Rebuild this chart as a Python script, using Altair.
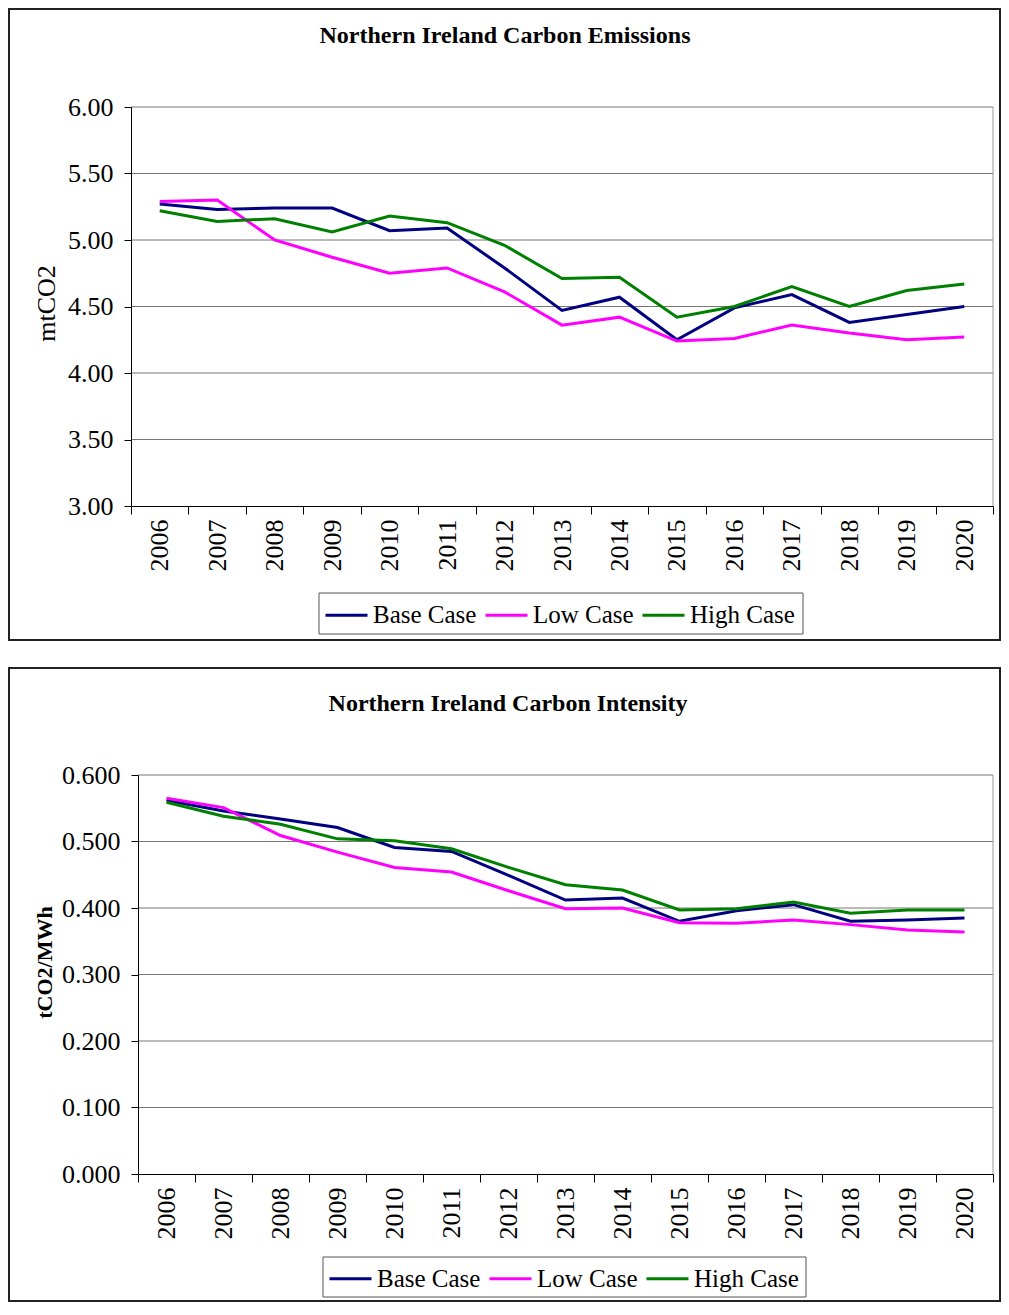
import altair as alt
import pandas as pd

years = [str(y) for y in range(2006, 2021)]
series = ["Base Case", "Low Case", "High Case"]
colors = ["#000080", "#FF00FF", "#008000"]

emis_base = [5.27, 5.23, 5.24, 5.24, 5.07, 5.09, 4.79, 4.47, 4.57, 4.25, 4.49, 4.59, 4.38, 4.44, 4.50]
emis_low = [5.29, 5.30, 5.00, 4.87, 4.75, 4.79, 4.61, 4.36, 4.42, 4.24, 4.26, 4.36, 4.30, 4.25, 4.27]
emis_high = [5.22, 5.14, 5.16, 5.06, 5.18, 5.13, 4.96, 4.71, 4.72, 4.42, 4.50, 4.65, 4.50, 4.62, 4.67]

int_base = [0.562, 0.546, 0.534, 0.521, 0.491, 0.485, 0.449, 0.412, 0.415, 0.380, 0.396, 0.405, 0.380, 0.382, 0.385]
int_low = [0.565, 0.551, 0.509, 0.484, 0.461, 0.454, 0.426, 0.399, 0.400, 0.378, 0.377, 0.382, 0.375, 0.367, 0.364]
int_high = [0.559, 0.538, 0.526, 0.504, 0.501, 0.489, 0.461, 0.435, 0.427, 0.397, 0.399, 0.409, 0.392, 0.397, 0.397]

emis_ticks = [3.0, 3.5, 4.0, 4.5, 5.0, 5.5, 6.0]
int_ticks = [0.0, 0.1, 0.2, 0.3, 0.4, 0.5, 0.6]

FONT = "Liberation Serif"
W, H = 862, 399


def long_df(vals):
    rows = []
    for name, v in zip(series, vals):
        for y, val in zip(years, v):
            rows.append({"year": y, "series": name, "value": val})
    return pd.DataFrame(rows)


def panel(df, title, ytitle, ytitle_bold, ticks, fmt, x0, frame, title_pos, lbox, ytitle_xy):
    yscale = alt.Scale(domain=[ticks[0], ticks[-1]], nice=False, zero=False)
    xscale = alt.Scale(type="band", paddingInner=0, paddingOuter=0, range=[x0, W])
    yaxis = alt.Axis(
        title=ytitle, titleFont=FONT, titleFontSize=(22 if ytitle_bold else 26),
        titleFontWeight=("bold" if ytitle_bold else "normal"), titleColor="#000",
        titleX=ytitle_xy[0], titleY=ytitle_xy[1], offset=-x0,
        values=ticks, format=fmt, labelFont=FONT, labelFontSize=26, labelColor="#000",
        tickSize=7, tickColor="#000", domainColor="#000", labelPadding=11,
        grid=False, zindex=1,
    )

    grid = alt.Chart(pd.DataFrame({"value": ticks[1:]})).mark_rule(color="#777", strokeWidth=1).encode(
        y=alt.Y("value:Q", scale=yscale, axis=yaxis),
        x=alt.value(x0), x2=alt.value(W),
    )
    right = alt.Chart(pd.DataFrame({"v": [ticks[0]]})).mark_rule(color="#999", strokeWidth=1).encode(
        x=alt.value(W), y=alt.value(0), y2=alt.value(H),
    )

    color = alt.Color(
        "series:N",
        scale=alt.Scale(domain=series, range=colors),
        legend=alt.Legend(
            orient="none", legendX=lbox[0] + 5, legendY=(lbox[2] + lbox[3]) / 2 - 21,
            direction="horizontal", title=None,
            symbolType="stroke", symbolSize=1764, symbolStrokeWidth=3,
            labelFont=FONT, labelFontSize=25, labelColor="#000", labelOffset=4,
            columnPadding=2, padding=0, labelLimit=300,
        ),
    )
    lines = alt.Chart(df).mark_line(strokeWidth=3).encode(
        x=alt.X(
            "year:O",
            scale=xscale,
            axis=alt.Axis(
                title=None, labelAngle=-90, labelFont=FONT, labelFontSize=26,
                labelColor="#000", tickBand="extent", tickSize=8, tickColor="#000",
                domainColor="#000", labelPadding=5, grid=False, zindex=1,
            ),
        ),
        y=alt.Y("value:Q", scale=yscale, axis=yaxis),
        color=color,
    )
    one = pd.DataFrame({"t": [title]})
    ttl = alt.Chart(one).mark_text(
        font=FONT, fontSize=24, fontWeight="bold", color="#000",
        align="center", baseline="alphabetic",
    ).encode(text="t:N", x=alt.value(title_pos[0]), y=alt.value(title_pos[1]))
    box = alt.Chart(one).mark_rect(fillOpacity=0, stroke="#222", strokeWidth=2).encode(
        x=alt.value(frame[0]), x2=alt.value(frame[1]),
        y=alt.value(frame[2]), y2=alt.value(frame[3]),
    )
    legbox = alt.Chart(one).mark_rect(fill="#ffffff", stroke="#555", strokeWidth=1).encode(
        x=alt.value(lbox[0]), x2=alt.value(lbox[1]),
        y=alt.value(lbox[2]), y2=alt.value(lbox[3]),
    )
    return alt.layer(box, grid, right, legbox, lines, ttl).properties(width=W, height=H)


top = panel(
    long_df([emis_base, emis_low, emis_high]),
    "Northern Ireland Carbon Emissions", "mtCO2", False, emis_ticks, ".2f",
    0, (-122, 869, -98, 533), (374, -64), (188, 672, 486, 527), (-72, 196),
)
bottom = panel(
    long_df([int_base, int_low, int_high]),
    "Northern Ireland Carbon Intensity", "tCO2/MWh", True, int_ticks, ".3f",
    7, (-122, 869, -107, 526), (377, -64), (192, 675, 482, 522), (-82, 187),
)

chart = alt.concat(top, bottom, columns=1, bounds="flush", spacing=269).resolve_legend(
    color="independent"
).resolve_scale(color="independent", x="independent", y="independent").configure_view(
    strokeWidth=0
).configure_axis(
    labelFont=FONT, titleFont=FONT
).configure_legend(
    labelFont=FONT
).properties(padding=0, background="#ffffff")

chart.save("out.html", embed_options={"renderer": "svg", "actions": False})
